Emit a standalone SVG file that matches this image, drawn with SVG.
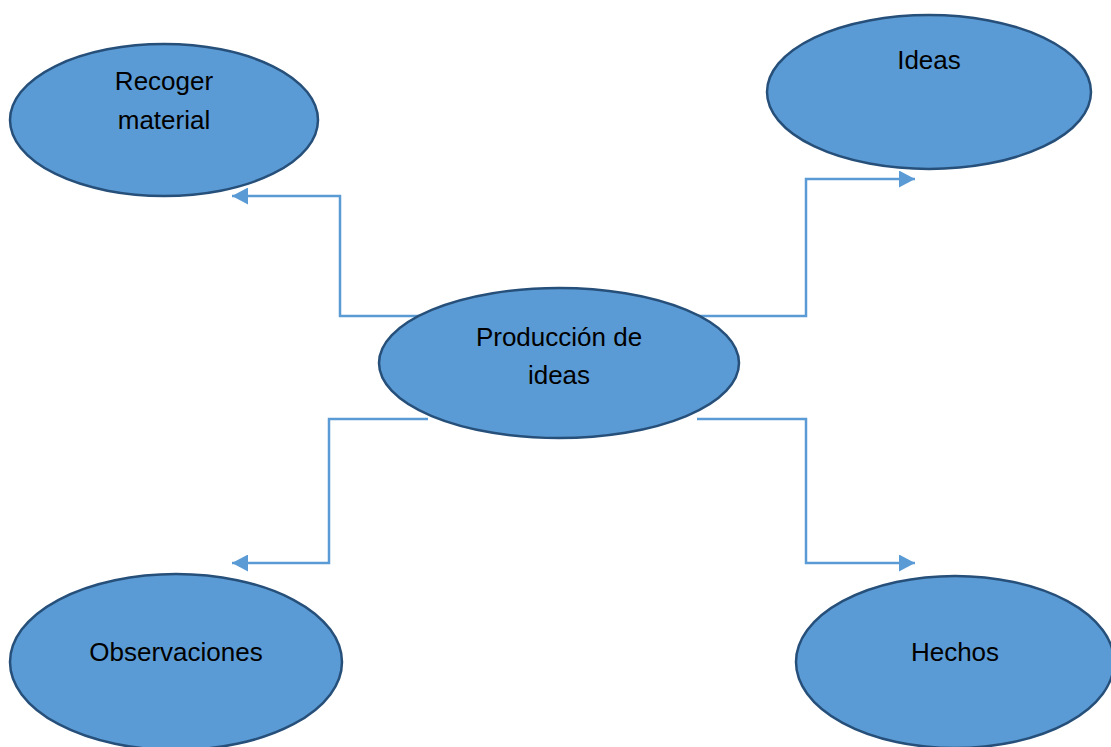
<svg xmlns="http://www.w3.org/2000/svg" width="1111" height="747" viewBox="0 0 1111 747">
<style>
.node ellipse{fill:#5B9BD5;stroke:#264F79;stroke-width:2.5}
.node text{font-family:"Liberation Sans",Arial,sans-serif;font-size:26px;fill:#000;text-anchor:middle}
.conn{fill:none;stroke:#5B9BD5;stroke-width:2.5;marker-end:url(#arr)}
</style>
<defs>
<marker id="arr" markerUnits="userSpaceOnUse" markerWidth="17" markerHeight="17" refX="16" refY="8.5" orient="auto">
<path d="M0,0 L16,8.5 L0,17 Z" fill="#5B9BD5"/>
</marker>
</defs>
<rect width="1111" height="747" fill="#fff"/>
<g id="connectors">
<path class="conn" d="M420,316 H340 V196 H232"/>
<path class="conn" d="M697,316 H806 V179 H915"/>
<path class="conn" d="M428,419 H329 V563 H232"/>
<path class="conn" d="M697,419 H806 V563 H915"/>
</g>
<g id="recoger" class="node">
<ellipse cx="164" cy="120" rx="154" ry="76"/>
<text x="164" y="90">Recoger</text>
<text x="164" y="129">material</text>
</g>
<g id="ideas" class="node">
<ellipse cx="929" cy="92" rx="162" ry="77"/>
<text x="929" y="69">Ideas</text>
</g>
<g id="produccion" class="node">
<ellipse cx="559" cy="363" rx="180" ry="75"/>
<text x="559" y="346">Producción de</text>
<text x="559" y="384">ideas</text>
</g>
<g id="observaciones" class="node">
<ellipse cx="176" cy="662" rx="166" ry="88"/>
<text x="176" y="661">Observaciones</text>
</g>
<g id="hechos" class="node">
<ellipse cx="955" cy="662" rx="159" ry="86"/>
<text x="955" y="661">Hechos</text>
</g>
</svg>
